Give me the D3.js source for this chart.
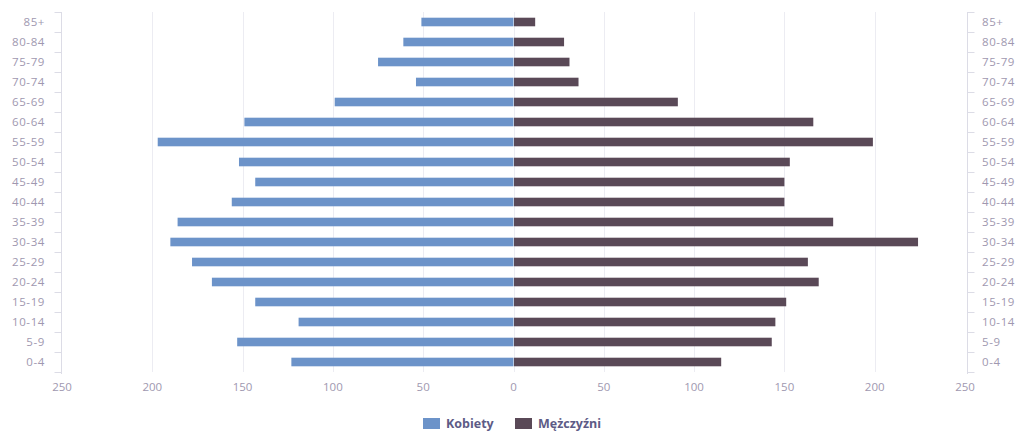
<!DOCTYPE html>
<html>
<head>
<meta charset="utf-8">
<script src="https://cdn.jsdelivr.net/npm/d3@7"></script>
<style>
  html, body { margin: 0; padding: 0; background: #ffffff; }
  svg { display: block; font-family: "Open Sans", "DejaVu Sans", sans-serif; }
  .lbl { fill: #a098b0; font-size: 11.5px; }
  .cat { letter-spacing: 0.6px; }
  .legend text { fill: #5d5b86; font-size: 12.5px; font-weight: bold; }
</style>
</head>
<body>
<svg id="chart" width="1018" height="432"></svg>
<script>
// Age groups, top to bottom
const ageGroups = ["85+", "80-84", "75-79", "70-74", "65-69", "60-64", "55-59", "50-54",
  "45-49", "40-44", "35-39", "30-34", "25-29", "20-24", "15-19", "10-14", "5-9", "0-4"];
// Women (drawn to the left)
const kobiety = [51, 61, 75, 54, 99, 149, 197, 152, 143, 156, 186, 190, 178, 167, 143, 119, 153, 123];
// Men (drawn to the right)
const mezczyzni = [12, 28, 31, 36, 91, 166, 199, 153, 150, 150, 177, 224, 163, 169, 151, 145, 143, 115];
// Value axis tick labels
const valueTicks = [-250, -200, -150, -100, -50, 0, 50, 100, 150, 200, 250];
const seriesNames = ["Kobiety", "Mężczyźni"];
const seriesColors = ["#6c93c9", "#5a4957"];

const svg = d3.select("#chart");
const plot = { left: 62, right: 965, top: 12, bottom: 372 };

const x = d3.scaleLinear().domain([-250, 250]).range([plot.left, plot.right]);
const y = d3.scaleBand().domain(ageGroups).range([plot.top, plot.bottom]).paddingInner(0.57).paddingOuter(0.285);

// vertical grid lines
svg.append("g").selectAll("line").data(valueTicks.filter(v => Math.abs(v) !== 250)).join("line")
  .attr("x1", d => Math.round(x(d)) + 0.5).attr("x2", d => Math.round(x(d)) + 0.5)
  .attr("y1", plot.top).attr("y2", plot.bottom)
  .attr("stroke", "#ececf2").attr("stroke-width", 1);

// left and right category axes
const step = y.step();
const boundaries = d3.range(ageGroups.length + 1).map(i => plot.top + i * step);
[
  { xPos: plot.left - 0.5, dir: -1 },
  { xPos: plot.right + 2.5, dir: 1 }
].forEach(ax => {
  const g = svg.append("g");
  g.append("line").attr("x1", ax.xPos).attr("x2", ax.xPos)
    .attr("y1", plot.top).attr("y2", plot.bottom + 2)
    .attr("stroke", "#dcdce6");
  g.selectAll("line.tick").data(boundaries).join("line").attr("class", "tick")
    .attr("x1", ax.xPos).attr("x2", ax.xPos + ax.dir * 7)
    .attr("y1", d => Math.round(d) + 0.5).attr("y2", d => Math.round(d) + 0.5)
    .attr("stroke", "#dcdce6");
  g.selectAll("text").data(ageGroups).join("text").attr("class", "lbl cat")
    .attr("x", ax.dir < 0 ? 45 : 982)
    .attr("y", d => y(d) + y.bandwidth() / 2)
    .attr("dy", "0.35em")
    .attr("text-anchor", ax.dir < 0 ? "end" : "start")
    .text(d => d);
});

// value axis labels (absolute values)
svg.append("g").selectAll("text").data(valueTicks).join("text").attr("class", "lbl")
  .attr("x", d => x(d)).attr("y", 391)
  .attr("text-anchor", "middle")
  .text(d => Math.abs(d));

// bars
const bars = svg.append("g");
bars.selectAll("rect.k").data(ageGroups).join("rect").attr("class", "k")
  .attr("x", (d, i) => x(-kobiety[i]))
  .attr("width", (d, i) => x(0) - x(-kobiety[i]))
  .attr("y", d => y(d)).attr("height", y.bandwidth())
  .attr("fill", seriesColors[0]);
bars.selectAll("rect.m").data(ageGroups).join("rect").attr("class", "m")
  .attr("x", x(0) + 0.5)
  .attr("width", (d, i) => x(mezczyzni[i]) - x(0) - 0.5)
  .attr("y", d => y(d)).attr("height", y.bandwidth())
  .attr("fill", seriesColors[1]);

// legend
const legend = svg.append("g").attr("class", "legend");
const legendX = [423, 515];
seriesNames.forEach((name, i) => {
  legend.append("rect").attr("x", legendX[i]).attr("y", 418).attr("width", 17).attr("height", 11)
    .attr("fill", seriesColors[i]);
  legend.append("text").attr("x", legendX[i] + 23).attr("y", 428).text(name);
});
</script>
</body>
</html>
